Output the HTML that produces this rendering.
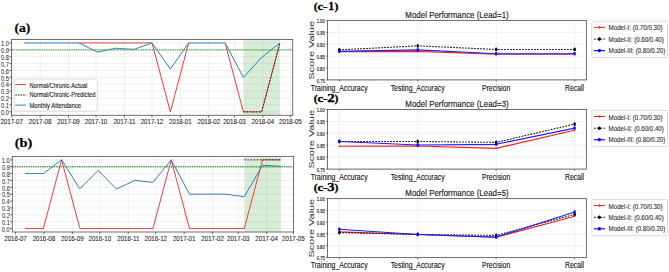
<!DOCTYPE html>
<html><head><meta charset="utf-8"><style>
html,body{margin:0;padding:0;background:#fff;}
body{width:669px;height:272px;overflow:hidden;}
svg{display:block;}
</style></head><body>
<svg width="669" height="272" viewBox="0 0 669 272">
<rect width="669" height="272" fill="#fff"/>
<line x1="11.70" y1="39.50" x2="11.70" y2="115.30" stroke="#e9e9e9" stroke-width="0.7"/>
<line x1="40.12" y1="39.50" x2="40.12" y2="115.30" stroke="#e9e9e9" stroke-width="0.7"/>
<line x1="68.54" y1="39.50" x2="68.54" y2="115.30" stroke="#e9e9e9" stroke-width="0.7"/>
<line x1="96.05" y1="39.50" x2="96.05" y2="115.30" stroke="#e9e9e9" stroke-width="0.7"/>
<line x1="124.47" y1="39.50" x2="124.47" y2="115.30" stroke="#e9e9e9" stroke-width="0.7"/>
<line x1="151.97" y1="39.50" x2="151.97" y2="115.30" stroke="#e9e9e9" stroke-width="0.7"/>
<line x1="180.39" y1="39.50" x2="180.39" y2="115.30" stroke="#e9e9e9" stroke-width="0.7"/>
<line x1="208.81" y1="39.50" x2="208.81" y2="115.30" stroke="#e9e9e9" stroke-width="0.7"/>
<line x1="234.48" y1="39.50" x2="234.48" y2="115.30" stroke="#e9e9e9" stroke-width="0.7"/>
<line x1="262.90" y1="39.50" x2="262.90" y2="115.30" stroke="#e9e9e9" stroke-width="0.7"/>
<line x1="290.41" y1="39.50" x2="290.41" y2="115.30" stroke="#e9e9e9" stroke-width="0.7"/>
<line x1="11.50" y1="111.85" x2="292.70" y2="111.85" stroke="#e9e9e9" stroke-width="0.7"/>
<line x1="11.50" y1="104.96" x2="292.70" y2="104.96" stroke="#e9e9e9" stroke-width="0.7"/>
<line x1="11.50" y1="98.07" x2="292.70" y2="98.07" stroke="#e9e9e9" stroke-width="0.7"/>
<line x1="11.50" y1="91.18" x2="292.70" y2="91.18" stroke="#e9e9e9" stroke-width="0.7"/>
<line x1="11.50" y1="84.29" x2="292.70" y2="84.29" stroke="#e9e9e9" stroke-width="0.7"/>
<line x1="11.50" y1="77.40" x2="292.70" y2="77.40" stroke="#e9e9e9" stroke-width="0.7"/>
<line x1="11.50" y1="70.51" x2="292.70" y2="70.51" stroke="#e9e9e9" stroke-width="0.7"/>
<line x1="11.50" y1="63.62" x2="292.70" y2="63.62" stroke="#e9e9e9" stroke-width="0.7"/>
<line x1="11.50" y1="56.73" x2="292.70" y2="56.73" stroke="#e9e9e9" stroke-width="0.7"/>
<line x1="11.50" y1="49.84" x2="292.70" y2="49.84" stroke="#e9e9e9" stroke-width="0.7"/>
<line x1="11.50" y1="42.95" x2="292.70" y2="42.95" stroke="#e9e9e9" stroke-width="0.7"/>
<rect x="243.40" y="39.50" width="36.52" height="75.80" fill="#2ca02c" fill-opacity="0.19"/>
<polyline points="79.06,42.95 97.32,42.95 115.58,42.95 133.84,42.95 152.10,42.95 170.36,111.85 188.62,42.95" fill="none" stroke="#f03c3c" stroke-width="1.0" stroke-linejoin="round"/>
<polyline points="225.14,42.95 243.40,111.85 261.66,111.85 279.92,42.95" fill="none" stroke="#f03c3c" stroke-width="1.0" stroke-linejoin="round"/>
<polyline points="243.40,111.85 261.66,111.85 279.92,42.95" fill="none" stroke="#2a2a2a" stroke-width="1.0" stroke-linejoin="round" stroke-dasharray="1.6 1.5"/>
<polyline points="24.28,42.95 42.54,42.95 60.80,42.95 79.06,42.95 97.32,52.11 115.58,48.25 133.84,49.42 152.10,42.95 170.36,69.13 188.62,42.95 206.88,42.95 225.14,42.95 243.40,77.40 261.66,57.42 279.92,42.95" fill="none" stroke="#2f7fc0" stroke-width="1.0" stroke-linejoin="round"/>
<line x1="11.50" y1="49.84" x2="292.70" y2="49.84" stroke="#3c9c3c" stroke-width="1.4" stroke-dasharray="1.5 0.8" opacity="0.85"/>
<rect x="11.50" y="39.50" width="281.20" height="75.80" fill="none" stroke="#606060" stroke-width="0.9"/>
<line x1="9.30" y1="111.85" x2="11.50" y2="111.85" stroke="#333" stroke-width="0.7"/>
<text x="0.97" y="115.05" font-size="6.5" font-family='"Liberation Sans", sans-serif' font-weight="normal" fill="#2a2a2a" textLength="7.95" lengthAdjust="spacingAndGlyphs" stroke="#2a2a2a" stroke-width="0.06">0.0</text>
<line x1="9.30" y1="104.96" x2="11.50" y2="104.96" stroke="#333" stroke-width="0.7"/>
<text x="1.02" y="108.16" font-size="6.5" font-family='"Liberation Sans", sans-serif' font-weight="normal" fill="#2a2a2a" textLength="7.95" lengthAdjust="spacingAndGlyphs" stroke="#2a2a2a" stroke-width="0.06">0.1</text>
<line x1="9.30" y1="98.07" x2="11.50" y2="98.07" stroke="#333" stroke-width="0.7"/>
<text x="1.04" y="101.27" font-size="6.5" font-family='"Liberation Sans", sans-serif' font-weight="normal" fill="#2a2a2a" textLength="7.95" lengthAdjust="spacingAndGlyphs" stroke="#2a2a2a" stroke-width="0.06">0.2</text>
<line x1="9.30" y1="91.18" x2="11.50" y2="91.18" stroke="#333" stroke-width="0.7"/>
<text x="1.00" y="94.38" font-size="6.5" font-family='"Liberation Sans", sans-serif' font-weight="normal" fill="#2a2a2a" textLength="7.95" lengthAdjust="spacingAndGlyphs" stroke="#2a2a2a" stroke-width="0.06">0.3</text>
<line x1="9.30" y1="84.29" x2="11.50" y2="84.29" stroke="#333" stroke-width="0.7"/>
<text x="0.92" y="87.49" font-size="6.5" font-family='"Liberation Sans", sans-serif' font-weight="normal" fill="#2a2a2a" textLength="7.95" lengthAdjust="spacingAndGlyphs" stroke="#2a2a2a" stroke-width="0.06">0.4</text>
<line x1="9.30" y1="77.40" x2="11.50" y2="77.40" stroke="#333" stroke-width="0.7"/>
<text x="0.98" y="80.60" font-size="6.5" font-family='"Liberation Sans", sans-serif' font-weight="normal" fill="#2a2a2a" textLength="7.95" lengthAdjust="spacingAndGlyphs" stroke="#2a2a2a" stroke-width="0.06">0.5</text>
<line x1="9.30" y1="70.51" x2="11.50" y2="70.51" stroke="#333" stroke-width="0.7"/>
<text x="1.00" y="73.71" font-size="6.5" font-family='"Liberation Sans", sans-serif' font-weight="normal" fill="#2a2a2a" textLength="7.95" lengthAdjust="spacingAndGlyphs" stroke="#2a2a2a" stroke-width="0.06">0.6</text>
<line x1="9.30" y1="63.62" x2="11.50" y2="63.62" stroke="#333" stroke-width="0.7"/>
<text x="1.04" y="66.82" font-size="6.5" font-family='"Liberation Sans", sans-serif' font-weight="normal" fill="#2a2a2a" textLength="7.95" lengthAdjust="spacingAndGlyphs" stroke="#2a2a2a" stroke-width="0.06">0.7</text>
<line x1="9.30" y1="56.73" x2="11.50" y2="56.73" stroke="#333" stroke-width="0.7"/>
<text x="1.00" y="59.93" font-size="6.5" font-family='"Liberation Sans", sans-serif' font-weight="normal" fill="#2a2a2a" textLength="7.95" lengthAdjust="spacingAndGlyphs" stroke="#2a2a2a" stroke-width="0.06">0.8</text>
<line x1="9.30" y1="49.84" x2="11.50" y2="49.84" stroke="#333" stroke-width="0.7"/>
<text x="1.02" y="53.04" font-size="6.5" font-family='"Liberation Sans", sans-serif' font-weight="normal" fill="#2a2a2a" textLength="7.95" lengthAdjust="spacingAndGlyphs" stroke="#2a2a2a" stroke-width="0.06">0.9</text>
<line x1="9.30" y1="42.95" x2="11.50" y2="42.95" stroke="#333" stroke-width="0.7"/>
<text x="0.97" y="46.15" font-size="6.5" font-family='"Liberation Sans", sans-serif' font-weight="normal" fill="#2a2a2a" textLength="7.95" lengthAdjust="spacingAndGlyphs" stroke="#2a2a2a" stroke-width="0.06">1.0</text>
<line x1="11.70" y1="115.30" x2="11.70" y2="117.50" stroke="#333" stroke-width="0.7"/>
<text x="0.43" y="123.60" font-size="7.1" font-family='"Liberation Sans", sans-serif' font-weight="normal" fill="#222" textLength="22.54" lengthAdjust="spacingAndGlyphs" stroke="#222" stroke-width="0.08">2017-07</text>
<line x1="40.12" y1="115.30" x2="40.12" y2="117.50" stroke="#333" stroke-width="0.7"/>
<text x="28.83" y="123.60" font-size="7.1" font-family='"Liberation Sans", sans-serif' font-weight="normal" fill="#222" textLength="22.54" lengthAdjust="spacingAndGlyphs" stroke="#222" stroke-width="0.08">2017-08</text>
<line x1="68.54" y1="115.30" x2="68.54" y2="117.50" stroke="#333" stroke-width="0.7"/>
<text x="57.26" y="123.60" font-size="7.1" font-family='"Liberation Sans", sans-serif' font-weight="normal" fill="#222" textLength="22.54" lengthAdjust="spacingAndGlyphs" stroke="#222" stroke-width="0.08">2017-09</text>
<line x1="96.05" y1="115.30" x2="96.05" y2="117.50" stroke="#333" stroke-width="0.7"/>
<text x="84.74" y="123.60" font-size="7.1" font-family='"Liberation Sans", sans-serif' font-weight="normal" fill="#222" textLength="22.54" lengthAdjust="spacingAndGlyphs" stroke="#222" stroke-width="0.08">2017-10</text>
<line x1="124.47" y1="115.30" x2="124.47" y2="117.50" stroke="#333" stroke-width="0.7"/>
<text x="113.42" y="123.60" font-size="7.1" font-family='"Liberation Sans", sans-serif' font-weight="normal" fill="#222" textLength="22.08" lengthAdjust="spacingAndGlyphs" stroke="#222" stroke-width="0.08">2017-11</text>
<line x1="151.97" y1="115.30" x2="151.97" y2="117.50" stroke="#333" stroke-width="0.7"/>
<text x="140.70" y="123.60" font-size="7.1" font-family='"Liberation Sans", sans-serif' font-weight="normal" fill="#222" textLength="22.54" lengthAdjust="spacingAndGlyphs" stroke="#222" stroke-width="0.08">2017-12</text>
<line x1="180.39" y1="115.30" x2="180.39" y2="117.50" stroke="#333" stroke-width="0.7"/>
<text x="169.12" y="123.60" font-size="7.1" font-family='"Liberation Sans", sans-serif' font-weight="normal" fill="#222" textLength="22.54" lengthAdjust="spacingAndGlyphs" stroke="#222" stroke-width="0.08">2018-01</text>
<line x1="208.81" y1="115.30" x2="208.81" y2="117.50" stroke="#333" stroke-width="0.7"/>
<text x="197.54" y="123.60" font-size="7.1" font-family='"Liberation Sans", sans-serif' font-weight="normal" fill="#222" textLength="22.54" lengthAdjust="spacingAndGlyphs" stroke="#222" stroke-width="0.08">2018-02</text>
<line x1="234.48" y1="115.30" x2="234.48" y2="117.50" stroke="#333" stroke-width="0.7"/>
<text x="223.19" y="123.60" font-size="7.1" font-family='"Liberation Sans", sans-serif' font-weight="normal" fill="#222" textLength="22.54" lengthAdjust="spacingAndGlyphs" stroke="#222" stroke-width="0.08">2018-03</text>
<line x1="262.90" y1="115.30" x2="262.90" y2="117.50" stroke="#333" stroke-width="0.7"/>
<text x="251.57" y="123.60" font-size="7.1" font-family='"Liberation Sans", sans-serif' font-weight="normal" fill="#222" textLength="22.54" lengthAdjust="spacingAndGlyphs" stroke="#222" stroke-width="0.08">2018-04</text>
<line x1="290.41" y1="115.30" x2="290.41" y2="117.50" stroke="#333" stroke-width="0.7"/>
<text x="279.11" y="123.60" font-size="7.1" font-family='"Liberation Sans", sans-serif' font-weight="normal" fill="#222" textLength="22.54" lengthAdjust="spacingAndGlyphs" stroke="#222" stroke-width="0.08">2018-05</text>
<text x="14.41" y="31.50" font-size="12.6" font-family='"Liberation Serif", serif' font-weight="bold" fill="#000" textLength="15.98" lengthAdjust="spacingAndGlyphs" stroke="#000" stroke-width="0.2">(a)</text>
<rect x="14.2" y="79.1" width="83.1" height="32.0" rx="1.5" fill="#fff" fill-opacity="0.85" stroke="#d0d0d0" stroke-width="0.7"/>
<line x1="15.30" y1="84.60" x2="26.10" y2="84.60" stroke="#f03c3c" stroke-width="1.0"/>
<line x1="15.30" y1="95.00" x2="26.10" y2="95.00" stroke="#222" stroke-width="1.0" stroke-dasharray="1.6 1.0"/>
<line x1="15.30" y1="105.10" x2="26.10" y2="105.10" stroke="#2f7fc0" stroke-width="1.0"/>
<text x="29.43" y="87.60" font-size="6.6" font-family='"Liberation Sans", sans-serif' font-weight="normal" fill="#222" textLength="57.75" lengthAdjust="spacingAndGlyphs" stroke="#222" stroke-width="0.12">Normal/Chronic-Actual</text>
<text x="29.43" y="97.20" font-size="6.6" font-family='"Liberation Sans", sans-serif' font-weight="normal" fill="#222" textLength="65.94" lengthAdjust="spacingAndGlyphs" stroke="#222" stroke-width="0.12">Normal/Chronic-Predicted</text>
<text x="29.42" y="107.50" font-size="6.6" font-family='"Liberation Sans", sans-serif' font-weight="normal" fill="#222" textLength="51.74" lengthAdjust="spacingAndGlyphs" stroke="#222" stroke-width="0.12">Monthly Attendance</text>
<line x1="15.50" y1="156.40" x2="15.50" y2="232.00" stroke="#e9e9e9" stroke-width="0.7"/>
<line x1="43.92" y1="156.40" x2="43.92" y2="232.00" stroke="#e9e9e9" stroke-width="0.7"/>
<line x1="72.34" y1="156.40" x2="72.34" y2="232.00" stroke="#e9e9e9" stroke-width="0.7"/>
<line x1="99.85" y1="156.40" x2="99.85" y2="232.00" stroke="#e9e9e9" stroke-width="0.7"/>
<line x1="128.27" y1="156.40" x2="128.27" y2="232.00" stroke="#e9e9e9" stroke-width="0.7"/>
<line x1="155.77" y1="156.40" x2="155.77" y2="232.00" stroke="#e9e9e9" stroke-width="0.7"/>
<line x1="184.19" y1="156.40" x2="184.19" y2="232.00" stroke="#e9e9e9" stroke-width="0.7"/>
<line x1="212.61" y1="156.40" x2="212.61" y2="232.00" stroke="#e9e9e9" stroke-width="0.7"/>
<line x1="238.28" y1="156.40" x2="238.28" y2="232.00" stroke="#e9e9e9" stroke-width="0.7"/>
<line x1="266.70" y1="156.40" x2="266.70" y2="232.00" stroke="#e9e9e9" stroke-width="0.7"/>
<line x1="293.40" y1="156.40" x2="293.40" y2="232.00" stroke="#e9e9e9" stroke-width="0.7"/>
<line x1="12.30" y1="228.56" x2="293.60" y2="228.56" stroke="#e9e9e9" stroke-width="0.7"/>
<line x1="12.30" y1="221.69" x2="293.60" y2="221.69" stroke="#e9e9e9" stroke-width="0.7"/>
<line x1="12.30" y1="214.82" x2="293.60" y2="214.82" stroke="#e9e9e9" stroke-width="0.7"/>
<line x1="12.30" y1="207.95" x2="293.60" y2="207.95" stroke="#e9e9e9" stroke-width="0.7"/>
<line x1="12.30" y1="201.07" x2="293.60" y2="201.07" stroke="#e9e9e9" stroke-width="0.7"/>
<line x1="12.30" y1="194.20" x2="293.60" y2="194.20" stroke="#e9e9e9" stroke-width="0.7"/>
<line x1="12.30" y1="187.33" x2="293.60" y2="187.33" stroke="#e9e9e9" stroke-width="0.7"/>
<line x1="12.30" y1="180.45" x2="293.60" y2="180.45" stroke="#e9e9e9" stroke-width="0.7"/>
<line x1="12.30" y1="173.58" x2="293.60" y2="173.58" stroke="#e9e9e9" stroke-width="0.7"/>
<line x1="12.30" y1="166.71" x2="293.60" y2="166.71" stroke="#e9e9e9" stroke-width="0.7"/>
<line x1="12.30" y1="159.84" x2="293.60" y2="159.84" stroke="#e9e9e9" stroke-width="0.7"/>
<rect x="244.28" y="156.40" width="36.53" height="75.60" fill="#2ca02c" fill-opacity="0.19"/>
<polyline points="25.09,228.56 43.35,228.56 61.62,159.84 79.89,228.56 98.15,228.56 116.42,228.56 134.68,228.56 152.95,228.56 171.22,159.84 189.48,228.56 207.75,228.56 226.01,228.56 244.28,228.56 262.55,159.84 280.81,159.84" fill="none" stroke="#f03c3c" stroke-width="1.0" stroke-linejoin="round"/>
<polyline points="244.28,159.84 262.55,159.84 280.81,159.84" fill="none" stroke="#2a2a2a" stroke-width="1.0" stroke-linejoin="round" stroke-dasharray="1.6 1.5"/>
<polyline points="25.09,173.58 43.35,173.58 61.62,159.84 79.89,188.84 98.15,170.42 116.42,189.05 134.68,180.45 152.95,182.38 171.22,159.84 189.48,194.20 207.75,194.20 226.01,194.20 244.28,196.74 262.55,165.20 280.81,166.37" fill="none" stroke="#2f7fc0" stroke-width="1.0" stroke-linejoin="round"/>
<line x1="12.30" y1="166.71" x2="293.60" y2="166.71" stroke="#3c9c3c" stroke-width="1.4" stroke-dasharray="1.5 0.8" opacity="0.85"/>
<rect x="12.30" y="156.40" width="281.30" height="75.60" fill="none" stroke="#606060" stroke-width="0.9"/>
<line x1="10.10" y1="228.56" x2="12.30" y2="228.56" stroke="#333" stroke-width="0.7"/>
<text x="1.87" y="231.76" font-size="6.5" font-family='"Liberation Sans", sans-serif' font-weight="normal" fill="#2a2a2a" textLength="7.95" lengthAdjust="spacingAndGlyphs" stroke="#2a2a2a" stroke-width="0.06">0.0</text>
<line x1="10.10" y1="221.69" x2="12.30" y2="221.69" stroke="#333" stroke-width="0.7"/>
<text x="1.92" y="224.89" font-size="6.5" font-family='"Liberation Sans", sans-serif' font-weight="normal" fill="#2a2a2a" textLength="7.95" lengthAdjust="spacingAndGlyphs" stroke="#2a2a2a" stroke-width="0.06">0.1</text>
<line x1="10.10" y1="214.82" x2="12.30" y2="214.82" stroke="#333" stroke-width="0.7"/>
<text x="1.94" y="218.02" font-size="6.5" font-family='"Liberation Sans", sans-serif' font-weight="normal" fill="#2a2a2a" textLength="7.95" lengthAdjust="spacingAndGlyphs" stroke="#2a2a2a" stroke-width="0.06">0.2</text>
<line x1="10.10" y1="207.95" x2="12.30" y2="207.95" stroke="#333" stroke-width="0.7"/>
<text x="1.90" y="211.15" font-size="6.5" font-family='"Liberation Sans", sans-serif' font-weight="normal" fill="#2a2a2a" textLength="7.95" lengthAdjust="spacingAndGlyphs" stroke="#2a2a2a" stroke-width="0.06">0.3</text>
<line x1="10.10" y1="201.07" x2="12.30" y2="201.07" stroke="#333" stroke-width="0.7"/>
<text x="1.82" y="204.27" font-size="6.5" font-family='"Liberation Sans", sans-serif' font-weight="normal" fill="#2a2a2a" textLength="7.95" lengthAdjust="spacingAndGlyphs" stroke="#2a2a2a" stroke-width="0.06">0.4</text>
<line x1="10.10" y1="194.20" x2="12.30" y2="194.20" stroke="#333" stroke-width="0.7"/>
<text x="1.88" y="197.40" font-size="6.5" font-family='"Liberation Sans", sans-serif' font-weight="normal" fill="#2a2a2a" textLength="7.95" lengthAdjust="spacingAndGlyphs" stroke="#2a2a2a" stroke-width="0.06">0.5</text>
<line x1="10.10" y1="187.33" x2="12.30" y2="187.33" stroke="#333" stroke-width="0.7"/>
<text x="1.90" y="190.53" font-size="6.5" font-family='"Liberation Sans", sans-serif' font-weight="normal" fill="#2a2a2a" textLength="7.95" lengthAdjust="spacingAndGlyphs" stroke="#2a2a2a" stroke-width="0.06">0.6</text>
<line x1="10.10" y1="180.45" x2="12.30" y2="180.45" stroke="#333" stroke-width="0.7"/>
<text x="1.94" y="183.65" font-size="6.5" font-family='"Liberation Sans", sans-serif' font-weight="normal" fill="#2a2a2a" textLength="7.95" lengthAdjust="spacingAndGlyphs" stroke="#2a2a2a" stroke-width="0.06">0.7</text>
<line x1="10.10" y1="173.58" x2="12.30" y2="173.58" stroke="#333" stroke-width="0.7"/>
<text x="1.90" y="176.78" font-size="6.5" font-family='"Liberation Sans", sans-serif' font-weight="normal" fill="#2a2a2a" textLength="7.95" lengthAdjust="spacingAndGlyphs" stroke="#2a2a2a" stroke-width="0.06">0.8</text>
<line x1="10.10" y1="166.71" x2="12.30" y2="166.71" stroke="#333" stroke-width="0.7"/>
<text x="1.92" y="169.91" font-size="6.5" font-family='"Liberation Sans", sans-serif' font-weight="normal" fill="#2a2a2a" textLength="7.95" lengthAdjust="spacingAndGlyphs" stroke="#2a2a2a" stroke-width="0.06">0.9</text>
<line x1="10.10" y1="159.84" x2="12.30" y2="159.84" stroke="#333" stroke-width="0.7"/>
<text x="1.87" y="163.04" font-size="6.5" font-family='"Liberation Sans", sans-serif' font-weight="normal" fill="#2a2a2a" textLength="7.95" lengthAdjust="spacingAndGlyphs" stroke="#2a2a2a" stroke-width="0.06">1.0</text>
<line x1="15.50" y1="232.00" x2="15.50" y2="234.20" stroke="#333" stroke-width="0.7"/>
<text x="4.23" y="240.70" font-size="7.1" font-family='"Liberation Sans", sans-serif' font-weight="normal" fill="#222" textLength="22.54" lengthAdjust="spacingAndGlyphs" stroke="#222" stroke-width="0.08">2016-07</text>
<line x1="43.92" y1="232.00" x2="43.92" y2="234.20" stroke="#333" stroke-width="0.7"/>
<text x="32.63" y="240.70" font-size="7.1" font-family='"Liberation Sans", sans-serif' font-weight="normal" fill="#222" textLength="22.54" lengthAdjust="spacingAndGlyphs" stroke="#222" stroke-width="0.08">2016-08</text>
<line x1="72.34" y1="232.00" x2="72.34" y2="234.20" stroke="#333" stroke-width="0.7"/>
<text x="61.06" y="240.70" font-size="7.1" font-family='"Liberation Sans", sans-serif' font-weight="normal" fill="#222" textLength="22.54" lengthAdjust="spacingAndGlyphs" stroke="#222" stroke-width="0.08">2016-09</text>
<line x1="99.85" y1="232.00" x2="99.85" y2="234.20" stroke="#333" stroke-width="0.7"/>
<text x="88.54" y="240.70" font-size="7.1" font-family='"Liberation Sans", sans-serif' font-weight="normal" fill="#222" textLength="22.54" lengthAdjust="spacingAndGlyphs" stroke="#222" stroke-width="0.08">2016-10</text>
<line x1="128.27" y1="232.00" x2="128.27" y2="234.20" stroke="#333" stroke-width="0.7"/>
<text x="117.22" y="240.70" font-size="7.1" font-family='"Liberation Sans", sans-serif' font-weight="normal" fill="#222" textLength="22.08" lengthAdjust="spacingAndGlyphs" stroke="#222" stroke-width="0.08">2016-11</text>
<line x1="155.77" y1="232.00" x2="155.77" y2="234.20" stroke="#333" stroke-width="0.7"/>
<text x="144.50" y="240.70" font-size="7.1" font-family='"Liberation Sans", sans-serif' font-weight="normal" fill="#222" textLength="22.54" lengthAdjust="spacingAndGlyphs" stroke="#222" stroke-width="0.08">2016-12</text>
<line x1="184.19" y1="232.00" x2="184.19" y2="234.20" stroke="#333" stroke-width="0.7"/>
<text x="172.92" y="240.70" font-size="7.1" font-family='"Liberation Sans", sans-serif' font-weight="normal" fill="#222" textLength="22.54" lengthAdjust="spacingAndGlyphs" stroke="#222" stroke-width="0.08">2017-01</text>
<line x1="212.61" y1="232.00" x2="212.61" y2="234.20" stroke="#333" stroke-width="0.7"/>
<text x="201.34" y="240.70" font-size="7.1" font-family='"Liberation Sans", sans-serif' font-weight="normal" fill="#222" textLength="22.54" lengthAdjust="spacingAndGlyphs" stroke="#222" stroke-width="0.08">2017-02</text>
<line x1="238.28" y1="232.00" x2="238.28" y2="234.20" stroke="#333" stroke-width="0.7"/>
<text x="226.99" y="240.70" font-size="7.1" font-family='"Liberation Sans", sans-serif' font-weight="normal" fill="#222" textLength="22.54" lengthAdjust="spacingAndGlyphs" stroke="#222" stroke-width="0.08">2017-03</text>
<line x1="266.70" y1="232.00" x2="266.70" y2="234.20" stroke="#333" stroke-width="0.7"/>
<text x="255.37" y="240.70" font-size="7.1" font-family='"Liberation Sans", sans-serif' font-weight="normal" fill="#222" textLength="22.54" lengthAdjust="spacingAndGlyphs" stroke="#222" stroke-width="0.08">2017-04</text>
<line x1="293.40" y1="232.00" x2="293.40" y2="234.20" stroke="#333" stroke-width="0.7"/>
<text x="282.10" y="240.70" font-size="7.1" font-family='"Liberation Sans", sans-serif' font-weight="normal" fill="#222" textLength="22.54" lengthAdjust="spacingAndGlyphs" stroke="#222" stroke-width="0.08">2017-05</text>
<text x="14.68" y="147.40" font-size="12.6" font-family='"Liberation Serif", serif' font-weight="bold" fill="#000" textLength="17.64" lengthAdjust="spacingAndGlyphs" stroke="#000" stroke-width="0.2">(b)</text>
<line x1="339.27" y1="20.40" x2="339.27" y2="79.90" stroke="#e9e9e9" stroke-width="0.7"/>
<line x1="417.72" y1="20.40" x2="417.72" y2="79.90" stroke="#e9e9e9" stroke-width="0.7"/>
<line x1="496.18" y1="20.40" x2="496.18" y2="79.90" stroke="#e9e9e9" stroke-width="0.7"/>
<line x1="574.63" y1="20.40" x2="574.63" y2="79.90" stroke="#e9e9e9" stroke-width="0.7"/>
<line x1="327.50" y1="79.90" x2="586.40" y2="79.90" stroke="#e9e9e9" stroke-width="0.7"/>
<line x1="327.50" y1="68.00" x2="586.40" y2="68.00" stroke="#e9e9e9" stroke-width="0.7"/>
<line x1="327.50" y1="56.10" x2="586.40" y2="56.10" stroke="#e9e9e9" stroke-width="0.7"/>
<line x1="327.50" y1="44.20" x2="586.40" y2="44.20" stroke="#e9e9e9" stroke-width="0.7"/>
<line x1="327.50" y1="32.30" x2="586.40" y2="32.30" stroke="#e9e9e9" stroke-width="0.7"/>
<line x1="327.50" y1="20.40" x2="586.40" y2="20.40" stroke="#e9e9e9" stroke-width="0.7"/>
<polyline points="339.27,51.58 417.72,51.34 496.18,54.20 574.63,54.20" fill="none" stroke="#ff1a1a" stroke-width="1.1" stroke-linejoin="round"/>
<ellipse cx="339.27" cy="51.58" rx="0.6" ry="1.0" fill="#ff1a1a"/>
<ellipse cx="417.72" cy="51.34" rx="0.6" ry="1.0" fill="#ff1a1a"/>
<ellipse cx="496.18" cy="54.20" rx="0.6" ry="1.0" fill="#ff1a1a"/>
<ellipse cx="574.63" cy="54.20" rx="0.6" ry="1.0" fill="#ff1a1a"/>
<polyline points="339.27,49.91 417.72,45.87 496.18,49.44 574.63,49.44" fill="none" stroke="#111" stroke-width="1.1" stroke-linejoin="round" stroke-dasharray="1.7 1.3"/>
<ellipse cx="339.27" cy="49.91" rx="1.3" ry="1.9" fill="#000"/>
<ellipse cx="417.72" cy="45.87" rx="1.3" ry="1.9" fill="#000"/>
<ellipse cx="496.18" cy="49.44" rx="1.3" ry="1.9" fill="#000"/>
<ellipse cx="574.63" cy="49.44" rx="1.3" ry="1.9" fill="#000"/>
<polyline points="339.27,51.34 417.72,49.91 496.18,53.72 574.63,53.72" fill="none" stroke="#1f1fff" stroke-width="1.15" stroke-linejoin="round"/>
<rect x="338.17" y="49.74" width="2.2" height="3.2" fill="#0000ff"/>
<rect x="416.62" y="48.31" width="2.2" height="3.2" fill="#0000ff"/>
<rect x="495.08" y="52.12" width="2.2" height="3.2" fill="#0000ff"/>
<rect x="573.53" y="52.12" width="2.2" height="3.2" fill="#0000ff"/>
<rect x="327.50" y="20.40" width="258.90" height="59.50" fill="none" stroke="#606060" stroke-width="0.9"/>
<line x1="325.90" y1="79.90" x2="327.50" y2="79.90" stroke="#333" stroke-width="0.6"/>
<text x="316.68" y="82.60" font-size="5.4" font-family='"Liberation Sans", sans-serif' font-weight="normal" fill="#222" textLength="8.09" lengthAdjust="spacingAndGlyphs" stroke="#222" stroke-width="0.15">0.75</text>
<line x1="325.90" y1="68.00" x2="327.50" y2="68.00" stroke="#333" stroke-width="0.6"/>
<text x="316.67" y="70.70" font-size="5.4" font-family='"Liberation Sans", sans-serif' font-weight="normal" fill="#222" textLength="8.09" lengthAdjust="spacingAndGlyphs" stroke="#222" stroke-width="0.15">0.80</text>
<line x1="325.90" y1="56.10" x2="327.50" y2="56.10" stroke="#333" stroke-width="0.6"/>
<text x="316.68" y="58.80" font-size="5.4" font-family='"Liberation Sans", sans-serif' font-weight="normal" fill="#222" textLength="8.09" lengthAdjust="spacingAndGlyphs" stroke="#222" stroke-width="0.15">0.85</text>
<line x1="325.90" y1="44.20" x2="327.50" y2="44.20" stroke="#333" stroke-width="0.6"/>
<text x="316.67" y="46.90" font-size="5.4" font-family='"Liberation Sans", sans-serif' font-weight="normal" fill="#222" textLength="8.09" lengthAdjust="spacingAndGlyphs" stroke="#222" stroke-width="0.15">0.90</text>
<line x1="325.90" y1="32.30" x2="327.50" y2="32.30" stroke="#333" stroke-width="0.6"/>
<text x="316.68" y="35.00" font-size="5.4" font-family='"Liberation Sans", sans-serif' font-weight="normal" fill="#222" textLength="8.09" lengthAdjust="spacingAndGlyphs" stroke="#222" stroke-width="0.15">0.95</text>
<line x1="325.90" y1="20.40" x2="327.50" y2="20.40" stroke="#333" stroke-width="0.6"/>
<text x="316.67" y="23.10" font-size="5.4" font-family='"Liberation Sans", sans-serif' font-weight="normal" fill="#222" textLength="8.09" lengthAdjust="spacingAndGlyphs" stroke="#222" stroke-width="0.15">1.00</text>
<line x1="339.27" y1="79.90" x2="339.27" y2="81.70" stroke="#333" stroke-width="0.6"/>
<text x="310.82" y="90.50" font-size="9.0" font-family='"Liberation Sans", sans-serif' font-weight="normal" fill="#111" textLength="56.76" lengthAdjust="spacingAndGlyphs" stroke="#111" stroke-width="0.12">Training_Accuracy</text>
<line x1="417.72" y1="79.90" x2="417.72" y2="81.70" stroke="#333" stroke-width="0.6"/>
<text x="390.68" y="90.50" font-size="9.0" font-family='"Liberation Sans", sans-serif' font-weight="normal" fill="#111" textLength="53.96" lengthAdjust="spacingAndGlyphs" stroke="#111" stroke-width="0.12">Testing_Accuracy</text>
<line x1="496.18" y1="79.90" x2="496.18" y2="81.70" stroke="#333" stroke-width="0.6"/>
<text x="481.96" y="90.50" font-size="9.0" font-family='"Liberation Sans", sans-serif' font-weight="normal" fill="#111" textLength="28.32" lengthAdjust="spacingAndGlyphs" stroke="#111" stroke-width="0.12">Precision</text>
<line x1="574.63" y1="79.90" x2="574.63" y2="81.70" stroke="#333" stroke-width="0.6"/>
<text x="565.01" y="90.50" font-size="9.0" font-family='"Liberation Sans", sans-serif' font-weight="normal" fill="#111" textLength="19.13" lengthAdjust="spacingAndGlyphs" stroke="#111" stroke-width="0.12">Recall</text>
<text x="0" y="0" font-size="10" font-family='"Liberation Sans", sans-serif' fill="#2a2a2a" text-anchor="middle" transform="translate(314.3 50.15) scale(0.8 1) rotate(-90)" textLength="58.6" lengthAdjust="spacingAndGlyphs">Score Value</text>
<text x="405.35" y="17.90" font-size="9.6" font-family='"Liberation Sans", sans-serif' font-weight="normal" fill="#111" textLength="103.34" lengthAdjust="spacingAndGlyphs" stroke="#111" stroke-width="0.12">Model Performance (Lead=1)</text>
<text x="313.80" y="10.00" font-size="10.0" font-family='"Liberation Serif", serif' font-weight="bold" fill="#000" textLength="3.87" lengthAdjust="spacingAndGlyphs" stroke="#000" stroke-width="0.3">(</text>
<text x="317.46" y="10.00" font-size="10.4" font-family='"Liberation Serif", serif' font-weight="bold" fill="#000" textLength="5.76" lengthAdjust="spacingAndGlyphs" stroke="#000" stroke-width="0.3">c</text>
<text x="323.10" y="10.00" font-size="10.4" font-family='"Liberation Serif", serif' font-weight="bold" fill="#000" textLength="4.59" lengthAdjust="spacingAndGlyphs" stroke="#000" stroke-width="0.3">-</text>
<text x="328.25" y="10.00" font-size="12.4" font-family='"Liberation Serif", serif' font-weight="bold" fill="#000" textLength="5.96" lengthAdjust="spacingAndGlyphs" stroke="#000" stroke-width="0.3">1</text>
<text x="334.43" y="10.00" font-size="10.0" font-family='"Liberation Serif", serif' font-weight="bold" fill="#000" textLength="3.87" lengthAdjust="spacingAndGlyphs" stroke="#000" stroke-width="0.3">)</text>
<rect x="591.8" y="21.30" width="75.7" height="36.2" rx="1.5" fill="#fff" fill-opacity="0.85" stroke="#d0d0d0" stroke-width="0.7"/>
<line x1="593.90" y1="27.40" x2="605.00" y2="27.40" stroke="#ff1a1a" stroke-width="1.0"/>
<ellipse cx="599.5" cy="27.40" rx="0.6" ry="1.3" fill="#ff1a1a"/>
<line x1="593.90" y1="39.10" x2="605.00" y2="39.10" stroke="#111" stroke-width="1.0" stroke-dasharray="1.8 1.4"/>
<ellipse cx="599.4" cy="39.10" rx="1.5" ry="1.8" fill="#000"/>
<line x1="593.90" y1="50.60" x2="605.00" y2="50.60" stroke="#1f1fff" stroke-width="1.3"/>
<rect x="598.20" y="49.00" width="2.4" height="3.2" fill="#0000ff"/>
<text x="608.59" y="30.40" font-size="7.2" font-family='"Liberation Sans", sans-serif' font-weight="normal" fill="#2a2a2a" textLength="53.99" lengthAdjust="spacingAndGlyphs" stroke="#2a2a2a" stroke-width="0.1">Model-I: (0.70/0.30)</text>
<text x="608.60" y="42.00" font-size="7.2" font-family='"Liberation Sans", sans-serif' font-weight="normal" fill="#2a2a2a" textLength="55.19" lengthAdjust="spacingAndGlyphs" stroke="#2a2a2a" stroke-width="0.1">Model-II: (0.60/0.40)</text>
<text x="608.60" y="53.20" font-size="7.2" font-family='"Liberation Sans", sans-serif' font-weight="normal" fill="#2a2a2a" textLength="56.68" lengthAdjust="spacingAndGlyphs" stroke="#2a2a2a" stroke-width="0.1">Model-III: (0.80/0.20)</text>
<line x1="339.27" y1="109.50" x2="339.27" y2="169.10" stroke="#e9e9e9" stroke-width="0.7"/>
<line x1="417.72" y1="109.50" x2="417.72" y2="169.10" stroke="#e9e9e9" stroke-width="0.7"/>
<line x1="496.18" y1="109.50" x2="496.18" y2="169.10" stroke="#e9e9e9" stroke-width="0.7"/>
<line x1="574.63" y1="109.50" x2="574.63" y2="169.10" stroke="#e9e9e9" stroke-width="0.7"/>
<line x1="327.50" y1="169.10" x2="586.40" y2="169.10" stroke="#e9e9e9" stroke-width="0.7"/>
<line x1="327.50" y1="157.18" x2="586.40" y2="157.18" stroke="#e9e9e9" stroke-width="0.7"/>
<line x1="327.50" y1="145.26" x2="586.40" y2="145.26" stroke="#e9e9e9" stroke-width="0.7"/>
<line x1="327.50" y1="133.34" x2="586.40" y2="133.34" stroke="#e9e9e9" stroke-width="0.7"/>
<line x1="327.50" y1="121.42" x2="586.40" y2="121.42" stroke="#e9e9e9" stroke-width="0.7"/>
<line x1="327.50" y1="109.50" x2="586.40" y2="109.50" stroke="#e9e9e9" stroke-width="0.7"/>
<polyline points="339.27,146.21 417.72,145.98 496.18,148.36 574.63,130.24" fill="none" stroke="#ff1a1a" stroke-width="1.1" stroke-linejoin="round"/>
<ellipse cx="339.27" cy="146.21" rx="0.6" ry="1.0" fill="#ff1a1a"/>
<ellipse cx="417.72" cy="145.98" rx="0.6" ry="1.0" fill="#ff1a1a"/>
<ellipse cx="496.18" cy="148.36" rx="0.6" ry="1.0" fill="#ff1a1a"/>
<ellipse cx="574.63" cy="130.24" rx="0.6" ry="1.0" fill="#ff1a1a"/>
<polyline points="339.27,141.45 417.72,141.45 496.18,142.40 574.63,124.04" fill="none" stroke="#111" stroke-width="1.1" stroke-linejoin="round" stroke-dasharray="1.7 1.3"/>
<ellipse cx="339.27" cy="141.45" rx="1.3" ry="1.9" fill="#000"/>
<ellipse cx="417.72" cy="141.45" rx="1.3" ry="1.9" fill="#000"/>
<ellipse cx="496.18" cy="142.40" rx="1.3" ry="1.9" fill="#000"/>
<ellipse cx="574.63" cy="124.04" rx="1.3" ry="1.9" fill="#000"/>
<polyline points="339.27,141.45 417.72,145.02 496.18,144.31 574.63,128.10" fill="none" stroke="#1f1fff" stroke-width="1.15" stroke-linejoin="round"/>
<rect x="338.17" y="139.85" width="2.2" height="3.2" fill="#0000ff"/>
<rect x="416.62" y="143.42" width="2.2" height="3.2" fill="#0000ff"/>
<rect x="495.08" y="142.71" width="2.2" height="3.2" fill="#0000ff"/>
<rect x="573.53" y="126.50" width="2.2" height="3.2" fill="#0000ff"/>
<rect x="327.50" y="109.50" width="258.90" height="59.60" fill="none" stroke="#606060" stroke-width="0.9"/>
<line x1="325.90" y1="169.10" x2="327.50" y2="169.10" stroke="#333" stroke-width="0.6"/>
<text x="316.68" y="171.80" font-size="5.4" font-family='"Liberation Sans", sans-serif' font-weight="normal" fill="#222" textLength="8.09" lengthAdjust="spacingAndGlyphs" stroke="#222" stroke-width="0.15">0.75</text>
<line x1="325.90" y1="157.18" x2="327.50" y2="157.18" stroke="#333" stroke-width="0.6"/>
<text x="316.67" y="159.88" font-size="5.4" font-family='"Liberation Sans", sans-serif' font-weight="normal" fill="#222" textLength="8.09" lengthAdjust="spacingAndGlyphs" stroke="#222" stroke-width="0.15">0.80</text>
<line x1="325.90" y1="145.26" x2="327.50" y2="145.26" stroke="#333" stroke-width="0.6"/>
<text x="316.68" y="147.96" font-size="5.4" font-family='"Liberation Sans", sans-serif' font-weight="normal" fill="#222" textLength="8.09" lengthAdjust="spacingAndGlyphs" stroke="#222" stroke-width="0.15">0.85</text>
<line x1="325.90" y1="133.34" x2="327.50" y2="133.34" stroke="#333" stroke-width="0.6"/>
<text x="316.67" y="136.04" font-size="5.4" font-family='"Liberation Sans", sans-serif' font-weight="normal" fill="#222" textLength="8.09" lengthAdjust="spacingAndGlyphs" stroke="#222" stroke-width="0.15">0.90</text>
<line x1="325.90" y1="121.42" x2="327.50" y2="121.42" stroke="#333" stroke-width="0.6"/>
<text x="316.68" y="124.12" font-size="5.4" font-family='"Liberation Sans", sans-serif' font-weight="normal" fill="#222" textLength="8.09" lengthAdjust="spacingAndGlyphs" stroke="#222" stroke-width="0.15">0.95</text>
<line x1="325.90" y1="109.50" x2="327.50" y2="109.50" stroke="#333" stroke-width="0.6"/>
<text x="316.67" y="112.20" font-size="5.4" font-family='"Liberation Sans", sans-serif' font-weight="normal" fill="#222" textLength="8.09" lengthAdjust="spacingAndGlyphs" stroke="#222" stroke-width="0.15">1.00</text>
<line x1="339.27" y1="169.10" x2="339.27" y2="170.90" stroke="#333" stroke-width="0.6"/>
<text x="310.82" y="179.70" font-size="9.0" font-family='"Liberation Sans", sans-serif' font-weight="normal" fill="#111" textLength="56.76" lengthAdjust="spacingAndGlyphs" stroke="#111" stroke-width="0.12">Training_Accuracy</text>
<line x1="417.72" y1="169.10" x2="417.72" y2="170.90" stroke="#333" stroke-width="0.6"/>
<text x="390.68" y="179.70" font-size="9.0" font-family='"Liberation Sans", sans-serif' font-weight="normal" fill="#111" textLength="53.96" lengthAdjust="spacingAndGlyphs" stroke="#111" stroke-width="0.12">Testing_Accuracy</text>
<line x1="496.18" y1="169.10" x2="496.18" y2="170.90" stroke="#333" stroke-width="0.6"/>
<text x="481.96" y="179.70" font-size="9.0" font-family='"Liberation Sans", sans-serif' font-weight="normal" fill="#111" textLength="28.32" lengthAdjust="spacingAndGlyphs" stroke="#111" stroke-width="0.12">Precision</text>
<line x1="574.63" y1="169.10" x2="574.63" y2="170.90" stroke="#333" stroke-width="0.6"/>
<text x="565.01" y="179.70" font-size="9.0" font-family='"Liberation Sans", sans-serif' font-weight="normal" fill="#111" textLength="19.13" lengthAdjust="spacingAndGlyphs" stroke="#111" stroke-width="0.12">Recall</text>
<text x="0" y="0" font-size="10" font-family='"Liberation Sans", sans-serif' fill="#2a2a2a" text-anchor="middle" transform="translate(314.3 139.30) scale(0.8 1) rotate(-90)" textLength="58.6" lengthAdjust="spacingAndGlyphs">Score Value</text>
<text x="405.35" y="107.00" font-size="9.6" font-family='"Liberation Sans", sans-serif' font-weight="normal" fill="#111" textLength="103.34" lengthAdjust="spacingAndGlyphs" stroke="#111" stroke-width="0.12">Model Performance (Lead=3)</text>
<text x="313.80" y="102.20" font-size="10.0" font-family='"Liberation Serif", serif' font-weight="bold" fill="#000" textLength="3.87" lengthAdjust="spacingAndGlyphs" stroke="#000" stroke-width="0.3">(</text>
<text x="317.46" y="102.20" font-size="10.4" font-family='"Liberation Serif", serif' font-weight="bold" fill="#000" textLength="5.76" lengthAdjust="spacingAndGlyphs" stroke="#000" stroke-width="0.3">c</text>
<text x="323.10" y="102.20" font-size="10.4" font-family='"Liberation Serif", serif' font-weight="bold" fill="#000" textLength="4.59" lengthAdjust="spacingAndGlyphs" stroke="#000" stroke-width="0.3">-</text>
<text x="327.26" y="102.20" font-size="12.4" font-family='"Liberation Serif", serif' font-weight="bold" fill="#000" textLength="7.57" lengthAdjust="spacingAndGlyphs" stroke="#000" stroke-width="0.3">2</text>
<text x="334.43" y="102.20" font-size="10.0" font-family='"Liberation Serif", serif' font-weight="bold" fill="#000" textLength="3.87" lengthAdjust="spacingAndGlyphs" stroke="#000" stroke-width="0.3">)</text>
<rect x="591.8" y="110.40" width="75.7" height="36.2" rx="1.5" fill="#fff" fill-opacity="0.85" stroke="#d0d0d0" stroke-width="0.7"/>
<line x1="593.90" y1="116.50" x2="605.00" y2="116.50" stroke="#ff1a1a" stroke-width="1.0"/>
<ellipse cx="599.5" cy="116.50" rx="0.6" ry="1.3" fill="#ff1a1a"/>
<line x1="593.90" y1="128.20" x2="605.00" y2="128.20" stroke="#111" stroke-width="1.0" stroke-dasharray="1.8 1.4"/>
<ellipse cx="599.4" cy="128.20" rx="1.5" ry="1.8" fill="#000"/>
<line x1="593.90" y1="139.70" x2="605.00" y2="139.70" stroke="#1f1fff" stroke-width="1.3"/>
<rect x="598.20" y="138.10" width="2.4" height="3.2" fill="#0000ff"/>
<text x="608.59" y="119.50" font-size="7.2" font-family='"Liberation Sans", sans-serif' font-weight="normal" fill="#2a2a2a" textLength="53.99" lengthAdjust="spacingAndGlyphs" stroke="#2a2a2a" stroke-width="0.1">Model-I: (0.70/0.30)</text>
<text x="608.60" y="131.10" font-size="7.2" font-family='"Liberation Sans", sans-serif' font-weight="normal" fill="#2a2a2a" textLength="55.19" lengthAdjust="spacingAndGlyphs" stroke="#2a2a2a" stroke-width="0.1">Model-II: (0.60/0.40)</text>
<text x="608.60" y="142.30" font-size="7.2" font-family='"Liberation Sans", sans-serif' font-weight="normal" fill="#2a2a2a" textLength="56.68" lengthAdjust="spacingAndGlyphs" stroke="#2a2a2a" stroke-width="0.1">Model-III: (0.80/0.20)</text>
<line x1="339.27" y1="198.60" x2="339.27" y2="257.60" stroke="#e9e9e9" stroke-width="0.7"/>
<line x1="417.72" y1="198.60" x2="417.72" y2="257.60" stroke="#e9e9e9" stroke-width="0.7"/>
<line x1="496.18" y1="198.60" x2="496.18" y2="257.60" stroke="#e9e9e9" stroke-width="0.7"/>
<line x1="574.63" y1="198.60" x2="574.63" y2="257.60" stroke="#e9e9e9" stroke-width="0.7"/>
<line x1="327.50" y1="257.60" x2="586.40" y2="257.60" stroke="#e9e9e9" stroke-width="0.7"/>
<line x1="327.50" y1="245.80" x2="586.40" y2="245.80" stroke="#e9e9e9" stroke-width="0.7"/>
<line x1="327.50" y1="234.00" x2="586.40" y2="234.00" stroke="#e9e9e9" stroke-width="0.7"/>
<line x1="327.50" y1="222.20" x2="586.40" y2="222.20" stroke="#e9e9e9" stroke-width="0.7"/>
<line x1="327.50" y1="210.40" x2="586.40" y2="210.40" stroke="#e9e9e9" stroke-width="0.7"/>
<line x1="327.50" y1="198.60" x2="586.40" y2="198.60" stroke="#e9e9e9" stroke-width="0.7"/>
<polyline points="339.27,231.88 417.72,234.47 496.18,237.30 574.63,216.30" fill="none" stroke="#ff1a1a" stroke-width="1.1" stroke-linejoin="round"/>
<ellipse cx="339.27" cy="231.88" rx="0.6" ry="1.0" fill="#ff1a1a"/>
<ellipse cx="417.72" cy="234.47" rx="0.6" ry="1.0" fill="#ff1a1a"/>
<ellipse cx="496.18" cy="237.30" rx="0.6" ry="1.0" fill="#ff1a1a"/>
<ellipse cx="574.63" cy="216.30" rx="0.6" ry="1.0" fill="#ff1a1a"/>
<polyline points="339.27,232.58 417.72,234.47 496.18,235.42 574.63,214.41" fill="none" stroke="#111" stroke-width="1.1" stroke-linejoin="round" stroke-dasharray="1.7 1.3"/>
<ellipse cx="339.27" cy="232.58" rx="1.3" ry="1.9" fill="#000"/>
<ellipse cx="417.72" cy="234.47" rx="1.3" ry="1.9" fill="#000"/>
<ellipse cx="496.18" cy="235.42" rx="1.3" ry="1.9" fill="#000"/>
<ellipse cx="574.63" cy="214.41" rx="1.3" ry="1.9" fill="#000"/>
<polyline points="339.27,229.28 417.72,234.47 496.18,237.07 574.63,212.05" fill="none" stroke="#1f1fff" stroke-width="1.15" stroke-linejoin="round"/>
<rect x="338.17" y="227.68" width="2.2" height="3.2" fill="#0000ff"/>
<rect x="416.62" y="232.87" width="2.2" height="3.2" fill="#0000ff"/>
<rect x="495.08" y="235.47" width="2.2" height="3.2" fill="#0000ff"/>
<rect x="573.53" y="210.45" width="2.2" height="3.2" fill="#0000ff"/>
<rect x="327.50" y="198.60" width="258.90" height="59.00" fill="none" stroke="#606060" stroke-width="0.9"/>
<line x1="325.90" y1="257.60" x2="327.50" y2="257.60" stroke="#333" stroke-width="0.6"/>
<text x="316.68" y="260.30" font-size="5.4" font-family='"Liberation Sans", sans-serif' font-weight="normal" fill="#222" textLength="8.09" lengthAdjust="spacingAndGlyphs" stroke="#222" stroke-width="0.15">0.75</text>
<line x1="325.90" y1="245.80" x2="327.50" y2="245.80" stroke="#333" stroke-width="0.6"/>
<text x="316.67" y="248.50" font-size="5.4" font-family='"Liberation Sans", sans-serif' font-weight="normal" fill="#222" textLength="8.09" lengthAdjust="spacingAndGlyphs" stroke="#222" stroke-width="0.15">0.80</text>
<line x1="325.90" y1="234.00" x2="327.50" y2="234.00" stroke="#333" stroke-width="0.6"/>
<text x="316.68" y="236.70" font-size="5.4" font-family='"Liberation Sans", sans-serif' font-weight="normal" fill="#222" textLength="8.09" lengthAdjust="spacingAndGlyphs" stroke="#222" stroke-width="0.15">0.85</text>
<line x1="325.90" y1="222.20" x2="327.50" y2="222.20" stroke="#333" stroke-width="0.6"/>
<text x="316.67" y="224.90" font-size="5.4" font-family='"Liberation Sans", sans-serif' font-weight="normal" fill="#222" textLength="8.09" lengthAdjust="spacingAndGlyphs" stroke="#222" stroke-width="0.15">0.90</text>
<line x1="325.90" y1="210.40" x2="327.50" y2="210.40" stroke="#333" stroke-width="0.6"/>
<text x="316.68" y="213.10" font-size="5.4" font-family='"Liberation Sans", sans-serif' font-weight="normal" fill="#222" textLength="8.09" lengthAdjust="spacingAndGlyphs" stroke="#222" stroke-width="0.15">0.95</text>
<line x1="325.90" y1="198.60" x2="327.50" y2="198.60" stroke="#333" stroke-width="0.6"/>
<text x="316.67" y="201.30" font-size="5.4" font-family='"Liberation Sans", sans-serif' font-weight="normal" fill="#222" textLength="8.09" lengthAdjust="spacingAndGlyphs" stroke="#222" stroke-width="0.15">1.00</text>
<line x1="339.27" y1="257.60" x2="339.27" y2="259.40" stroke="#333" stroke-width="0.6"/>
<text x="310.82" y="268.20" font-size="9.0" font-family='"Liberation Sans", sans-serif' font-weight="normal" fill="#111" textLength="56.76" lengthAdjust="spacingAndGlyphs" stroke="#111" stroke-width="0.12">Training_Accuracy</text>
<line x1="417.72" y1="257.60" x2="417.72" y2="259.40" stroke="#333" stroke-width="0.6"/>
<text x="390.68" y="268.20" font-size="9.0" font-family='"Liberation Sans", sans-serif' font-weight="normal" fill="#111" textLength="53.96" lengthAdjust="spacingAndGlyphs" stroke="#111" stroke-width="0.12">Testing_Accuracy</text>
<line x1="496.18" y1="257.60" x2="496.18" y2="259.40" stroke="#333" stroke-width="0.6"/>
<text x="481.96" y="268.20" font-size="9.0" font-family='"Liberation Sans", sans-serif' font-weight="normal" fill="#111" textLength="28.32" lengthAdjust="spacingAndGlyphs" stroke="#111" stroke-width="0.12">Precision</text>
<line x1="574.63" y1="257.60" x2="574.63" y2="259.40" stroke="#333" stroke-width="0.6"/>
<text x="565.01" y="268.20" font-size="9.0" font-family='"Liberation Sans", sans-serif' font-weight="normal" fill="#111" textLength="19.13" lengthAdjust="spacingAndGlyphs" stroke="#111" stroke-width="0.12">Recall</text>
<text x="0" y="0" font-size="10" font-family='"Liberation Sans", sans-serif' fill="#2a2a2a" text-anchor="middle" transform="translate(314.3 228.10) scale(0.8 1) rotate(-90)" textLength="58.6" lengthAdjust="spacingAndGlyphs">Score Value</text>
<text x="405.35" y="196.10" font-size="9.6" font-family='"Liberation Sans", sans-serif' font-weight="normal" fill="#111" textLength="103.34" lengthAdjust="spacingAndGlyphs" stroke="#111" stroke-width="0.12">Model Performance (Lead=5)</text>
<text x="313.80" y="190.90" font-size="10.0" font-family='"Liberation Serif", serif' font-weight="bold" fill="#000" textLength="3.87" lengthAdjust="spacingAndGlyphs" stroke="#000" stroke-width="0.3">(</text>
<text x="317.46" y="190.90" font-size="10.4" font-family='"Liberation Serif", serif' font-weight="bold" fill="#000" textLength="5.76" lengthAdjust="spacingAndGlyphs" stroke="#000" stroke-width="0.3">c</text>
<text x="323.10" y="190.90" font-size="10.4" font-family='"Liberation Serif", serif' font-weight="bold" fill="#000" textLength="4.59" lengthAdjust="spacingAndGlyphs" stroke="#000" stroke-width="0.3">-</text>
<text x="327.36" y="190.90" font-size="12.4" font-family='"Liberation Serif", serif' font-weight="bold" fill="#000" textLength="7.34" lengthAdjust="spacingAndGlyphs" stroke="#000" stroke-width="0.3">3</text>
<text x="334.43" y="190.90" font-size="10.0" font-family='"Liberation Serif", serif' font-weight="bold" fill="#000" textLength="3.87" lengthAdjust="spacingAndGlyphs" stroke="#000" stroke-width="0.3">)</text>
<rect x="591.8" y="199.50" width="75.7" height="36.2" rx="1.5" fill="#fff" fill-opacity="0.85" stroke="#d0d0d0" stroke-width="0.7"/>
<line x1="593.90" y1="205.60" x2="605.00" y2="205.60" stroke="#ff1a1a" stroke-width="1.0"/>
<ellipse cx="599.5" cy="205.60" rx="0.6" ry="1.3" fill="#ff1a1a"/>
<line x1="593.90" y1="217.30" x2="605.00" y2="217.30" stroke="#111" stroke-width="1.0" stroke-dasharray="1.8 1.4"/>
<ellipse cx="599.4" cy="217.30" rx="1.5" ry="1.8" fill="#000"/>
<line x1="593.90" y1="228.80" x2="605.00" y2="228.80" stroke="#1f1fff" stroke-width="1.3"/>
<rect x="598.20" y="227.20" width="2.4" height="3.2" fill="#0000ff"/>
<text x="608.59" y="208.60" font-size="7.2" font-family='"Liberation Sans", sans-serif' font-weight="normal" fill="#2a2a2a" textLength="53.99" lengthAdjust="spacingAndGlyphs" stroke="#2a2a2a" stroke-width="0.1">Model-I: (0.70/0.30)</text>
<text x="608.60" y="220.20" font-size="7.2" font-family='"Liberation Sans", sans-serif' font-weight="normal" fill="#2a2a2a" textLength="55.19" lengthAdjust="spacingAndGlyphs" stroke="#2a2a2a" stroke-width="0.1">Model-II: (0.60/0.40)</text>
<text x="608.60" y="231.40" font-size="7.2" font-family='"Liberation Sans", sans-serif' font-weight="normal" fill="#2a2a2a" textLength="56.68" lengthAdjust="spacingAndGlyphs" stroke="#2a2a2a" stroke-width="0.1">Model-III: (0.80/0.20)</text>
</svg>
</body></html>
